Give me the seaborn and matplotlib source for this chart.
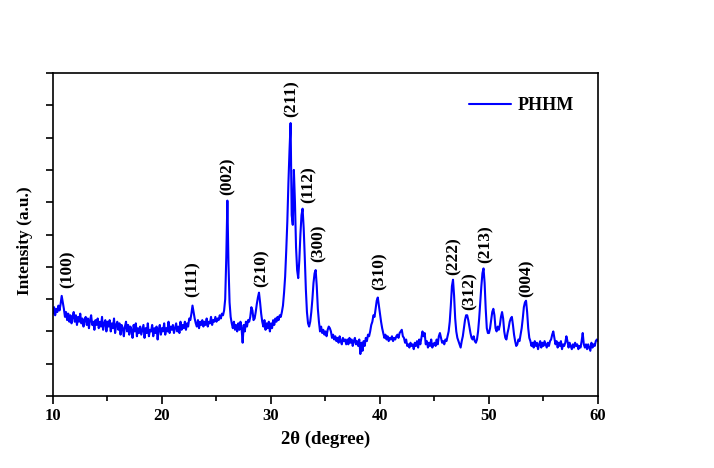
import numpy as np
import pandas as pd
import matplotlib
matplotlib.use("Agg")
import matplotlib.pyplot as plt
import seaborn as sns
from matplotlib.ticker import MultipleLocator

# 2-theta grid (degrees), 0.1 step from 10 to 60
two_theta = np.round(np.arange(100, 601) / 10.0, 1)

# intensity (a.u.), one row per degree
intensity = [
    2.55, 2.75, 2.5, 2.7, 2.6, 2.8, 2.65, 2.85, 3.1, 2.9,
    2.7, 2.45, 2.6, 2.35, 2.55, 2.3, 2.5, 2.25, 2.45, 2.6,
    2.3, 2.5, 2.2, 2.45, 2.3, 2.55, 2.25, 2.4, 2.15, 2.35,
    2.45, 2.2, 2.4, 2.1, 2.35, 2.5, 2.2, 2.3, 2.05, 2.35,
    2.2, 2.4, 2.1, 2.3, 2.15, 2.45, 2.05, 2.25, 2.35, 2.0,
    2.3, 2.15, 2.35, 2.0, 2.25, 2.1, 2.4, 1.95, 2.2, 2.3,
    2.05, 2.25, 1.9, 2.2, 2.1, 1.85, 2.15, 2.3, 2.0, 2.2,
    1.9, 2.15, 2.05, 1.8, 2.2, 2.0, 2.25, 1.85, 2.1, 1.95,
    2.15, 1.9, 2.05, 2.2, 1.8, 2.1, 1.95, 2.25, 1.85, 2.05,
    2.0, 2.2, 1.85, 2.1, 1.95, 2.15, 1.75, 2.05, 2.2, 1.9,
    2.1, 2.0, 2.25, 1.9, 2.1, 2.0, 2.3, 1.95, 2.15, 2.05,
    2.2, 1.95, 2.1, 2.25, 2.0, 2.15, 1.95, 2.3, 2.05, 2.2,
    2.1, 2.3, 2.05, 2.25, 2.15, 2.4, 2.35, 2.55, 2.8, 2.6,
    2.4, 2.25, 2.15, 2.35, 2.1, 2.3, 2.2, 2.35, 2.15, 2.3,
    2.2, 2.4, 2.15, 2.3, 2.25, 2.45, 2.2, 2.35, 2.3, 2.45,
    2.3, 2.4, 2.35, 2.5, 2.4, 2.55, 2.5, 2.65, 3.0, 4.3,
    6.05, 4.1, 2.9, 2.45, 2.25, 2.1, 2.3, 2.05, 2.2, 2.0,
    2.25, 2.05, 2.3, 2.1, 1.65, 2.2, 2.0, 2.3, 2.15, 2.35,
    2.3, 2.45, 2.75, 2.65, 2.35, 2.4, 2.6, 2.85, 3.05, 3.2,
    2.9, 2.55, 2.3, 2.15, 2.35, 2.05, 2.25, 2.1, 2.3, 2.0,
    2.25, 2.1, 2.35, 2.2, 2.4, 2.3, 2.45, 2.35, 2.5, 2.45,
    2.6, 2.8, 3.2, 3.7, 4.5, 5.4, 6.6, 7.6, 8.45, 5.6,
    5.3, 7.0, 6.0, 4.6, 3.9, 3.65, 4.2, 5.0, 5.6, 5.8,
    5.2, 4.3, 3.3, 2.6, 2.25, 2.15, 2.3, 2.6, 3.0, 3.5,
    3.8, 3.9, 3.4, 2.7, 2.3, 2.0, 2.15, 1.95, 2.05, 1.9,
    2.0, 1.85, 2.05, 2.15, 2.1, 2.0, 1.8, 1.9, 1.75, 1.85,
    1.7, 1.8, 1.65, 1.85, 1.7, 1.6, 1.8, 1.7, 1.75, 1.6,
    1.75, 1.6, 1.8, 1.65, 1.75, 1.55, 1.7, 1.8, 1.6, 1.7,
    1.55, 1.75, 1.3, 1.65, 1.4, 1.7, 1.55, 1.8, 1.7, 1.9,
    1.85, 2.0, 2.2, 2.3, 2.5, 2.45, 2.7, 2.95, 3.05, 2.8,
    2.55, 2.3, 2.1, 1.95, 1.8, 1.9, 1.75, 1.85, 1.7, 1.8,
    1.75, 1.85, 1.7, 1.8, 1.75, 1.85, 1.9, 1.8, 1.95, 2.0,
    2.05, 1.85, 1.8, 1.65, 1.75, 1.55, 1.6, 1.5, 1.65, 1.55,
    1.6, 1.45, 1.65, 1.55, 1.7, 1.5, 1.75, 1.6, 1.8, 2.0,
    1.85, 1.95, 1.6, 1.7, 1.5, 1.65, 1.55, 1.75, 1.5, 1.6,
    1.65, 1.55, 1.75, 1.6, 1.85, 1.95, 1.8, 1.65, 1.7, 1.6,
    1.75, 1.7, 1.85, 2.0, 2.3, 2.8, 3.4, 3.6, 3.1, 2.4,
    2.0, 1.8, 1.7, 1.6, 1.5, 1.7, 1.85, 2.1, 2.35, 2.5,
    2.5, 2.35, 2.15, 1.95, 1.8, 1.75, 1.85, 1.7, 1.65, 1.75,
    2.0, 2.4, 2.9, 3.4, 3.8, 3.95, 3.5, 2.7, 2.1, 1.95,
    1.95, 2.1, 2.35, 2.6, 2.7, 2.5, 2.1, 2.0, 2.15, 2.05,
    2.2, 2.45, 2.6, 2.4, 2.0, 1.8, 1.75, 1.95, 2.1, 2.3,
    2.4, 2.45, 2.2, 1.9, 1.7, 1.55, 1.6, 1.75, 1.7, 1.9,
    2.1, 2.4, 2.75, 2.9, 2.95, 2.6, 2.1, 1.8, 1.7, 1.55,
    1.65, 1.5, 1.7, 1.55, 1.65, 1.45, 1.6, 1.7, 1.5, 1.65,
    1.55, 1.7, 1.6, 1.5, 1.65, 1.55, 1.7, 1.75, 1.9, 2.0,
    1.8, 1.6, 1.7, 1.5, 1.65, 1.55, 1.7, 1.45, 1.6, 1.55,
    1.65, 1.85, 1.7, 1.5, 1.65, 1.55, 1.45, 1.6, 1.5, 1.65,
    1.55, 1.6, 1.45, 1.55, 1.5, 1.7, 1.95, 1.6, 1.5, 1.6,
    1.45, 1.6, 1.5, 1.4, 1.65, 1.5, 1.6, 1.55, 1.7, 1.75,
    1.7,
]

peak_labels = ['(100)', '(111)', '(002)', '(210)', '(211)', '(112)',
               '(300)', '(310)', '(222)', '(312)', '(213)', '(004)']
peak_label_x = [11.3, 22.85, 26.0, 29.1, 31.9, 33.5, 34.4, 40.0, 46.8, 48.26, 49.7, 53.5]
peak_label_y = [3.34, 3.07, 6.22, 3.37, 8.64, 5.98, 4.15, 3.28, 3.75, 2.66, 4.12, 3.07]

x_ticks = [10, 20, 30, 40, 50, 60]

sns.set_theme(style="ticks")
plt.rcParams['font.family'] = ['Liberation Serif', 'DejaVu Serif']
plt.rcParams['font.weight'] = 'bold'
plt.rcParams['text.color'] = 'black'
plt.rcParams['axes.labelcolor'] = 'black'
plt.rcParams['xtick.color'] = 'black'
plt.rcParams['ytick.color'] = 'black'
plt.rcParams['axes.edgecolor'] = 'black'

df = pd.DataFrame({'two_theta': two_theta, 'intensity': intensity})

fig = plt.figure(figsize=(7.14, 4.68), dpi=100)
ax = fig.add_axes([0.0742, 0.1538, 0.7633, 0.6902])

sns.lineplot(data=df, x='two_theta', y='intensity', ax=ax, color='#0000ff',
             linewidth=1.5, estimator=None, sort=False, label='PHHM')

for lab, lx, ly in zip(peak_labels, peak_label_x, peak_label_y):
    ax.text(lx, ly, lab, rotation=90, ha='center', va='bottom',
            fontsize=12.5, fontweight='bold', color='black')

ax.set_xlim(10, 60)
ax.set_ylim(0, 10)
ax.set_xticks(x_ticks)
ax.xaxis.set_minor_locator(MultipleLocator(5))
ax.yaxis.set_major_locator(MultipleLocator(1))
ax.set_yticklabels([])
ax.tick_params(axis='x', which='major', direction='out', length=5.5, width=1.2,
               labelsize=12, pad=3, colors='black')
ax.tick_params(axis='x', which='minor', direction='out', length=3.5, width=1.2)
ax.tick_params(axis='y', which='major', direction='out', length=5, width=1.2)
for lbl in ax.get_xticklabels():
    lbl.set_fontweight('bold')
for sp in ax.spines.values():
    sp.set_visible(True)
    sp.set_linewidth(1.2)
    sp.set_color('black')

ax.set_xlabel('2θ (degree)', fontsize=13.5, fontweight='bold', labelpad=5)
ax.set_ylabel('Intensity (a.u.)', fontsize=12.5, fontweight='bold')
ax.yaxis.set_label_coords(-0.037, 0.48)

leg = ax.legend(loc='upper right', bbox_to_anchor=(0.985, 0.975), frameon=False,
                handlelength=2.3, handletextpad=0.35,
                prop={'family': 'Liberation Serif', 'weight': 'bold', 'size': 13})

fig.savefig('out.png', dpi=100, facecolor='white')
